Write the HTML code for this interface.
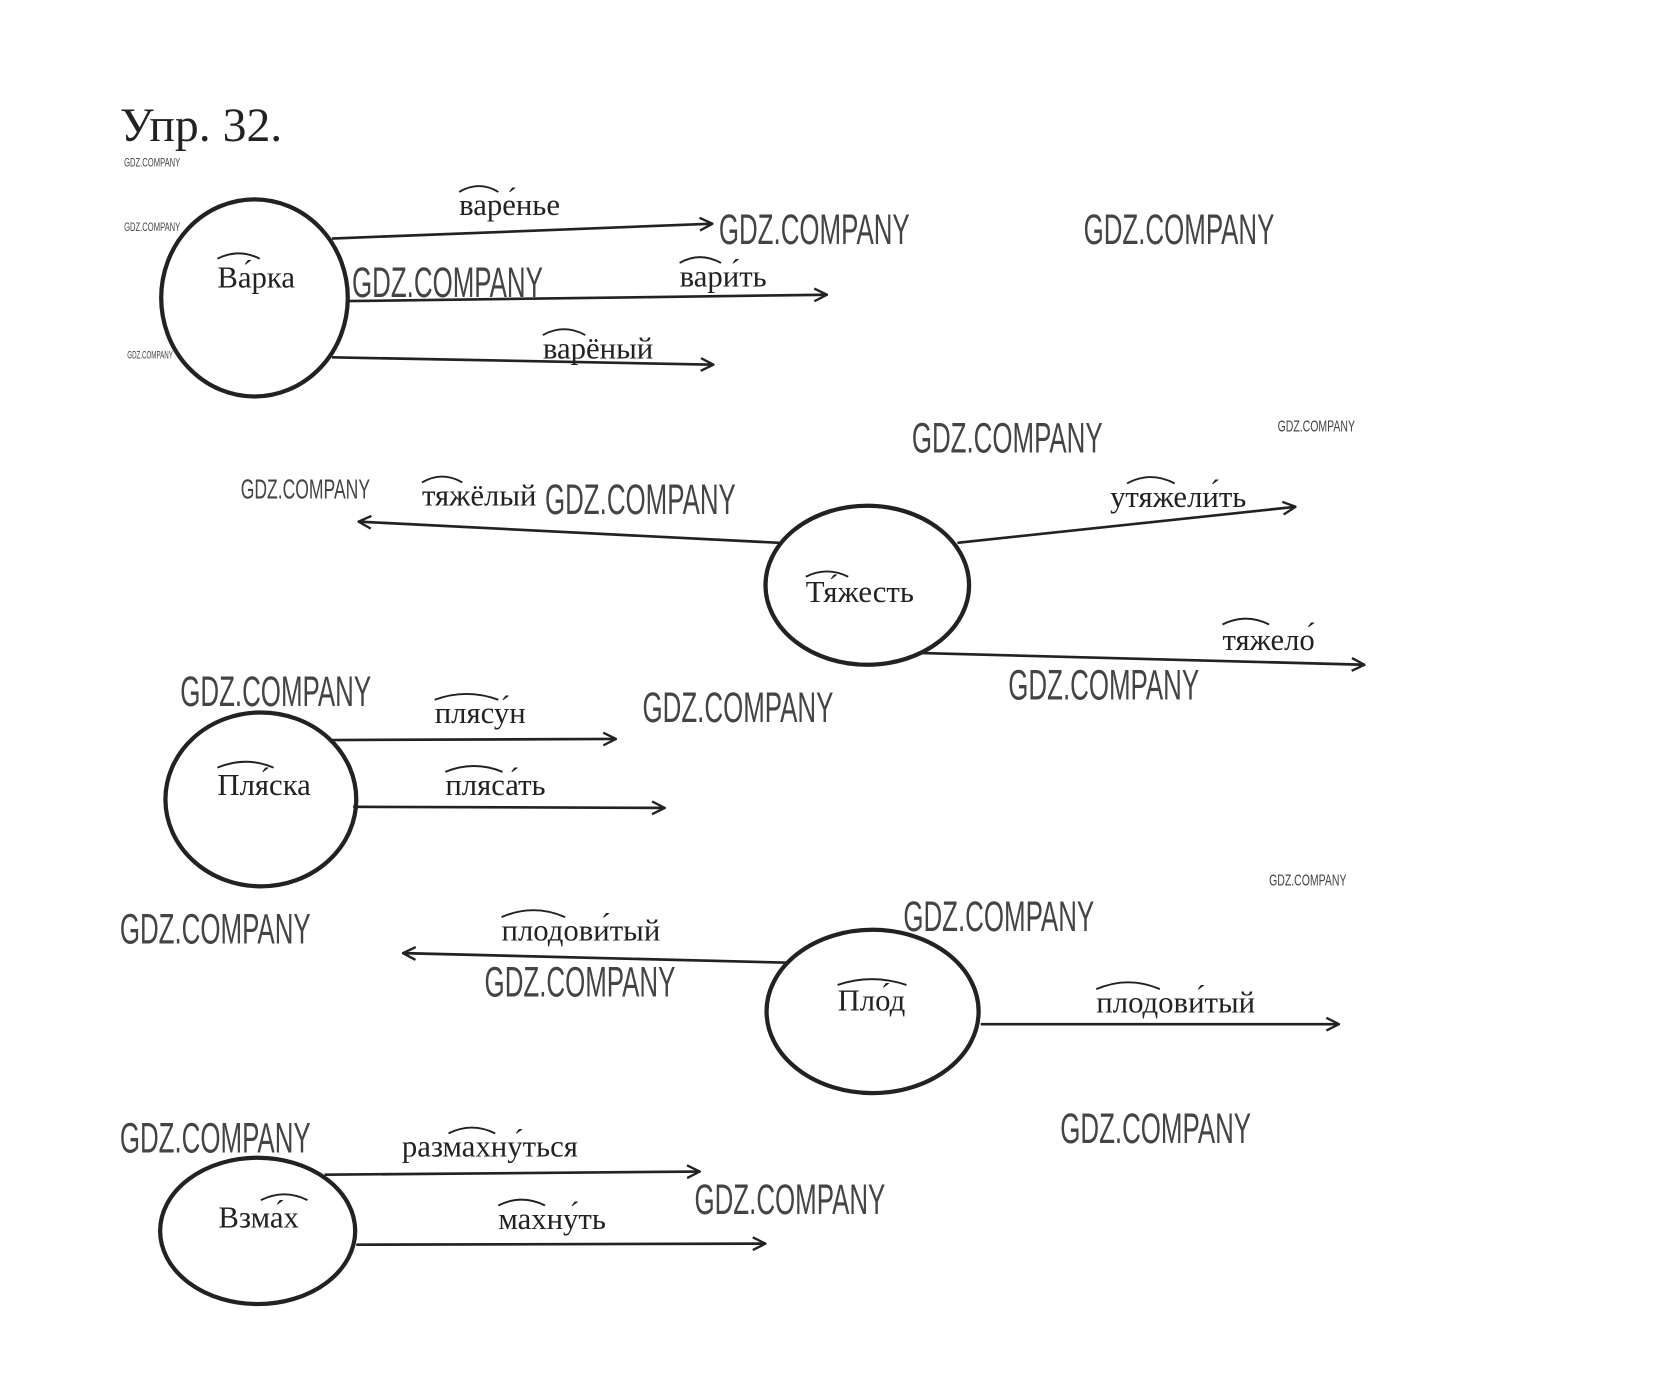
<!DOCTYPE html>
<html><head><meta charset="utf-8"><style>
html,body{margin:0;padding:0;background:#fff;width:1654px;height:1391px;overflow:hidden}
svg{display:block}
.s{font-family:"Liberation Serif",serif;fill:#222}
.w{font-family:"Liberation Sans",sans-serif;fill:#444}
</style></head><body>
<svg width="1654" height="1391" viewBox="0 0 1560 1312" xmlns="http://www.w3.org/2000/svg">
<defs><marker id="a" markerWidth="14" markerHeight="14" refX="13" refY="7" orient="auto" markerUnits="userSpaceOnUse"><path d="M1,1 L13,7 L1,13" fill="none" stroke="#222" stroke-width="2.2"/></marker></defs>
<text class="s" x="113" y="133" font-size="45">Упр. 32.</text>
<g fill="none" stroke="#222" stroke-width="4">
<ellipse cx="240" cy="281" rx="88" ry="93"/>
<ellipse cx="818" cy="552" rx="96" ry="75"/>
<ellipse cx="246" cy="754" rx="90" ry="82"/>
<ellipse cx="823" cy="954" rx="100" ry="77"/>
<ellipse cx="243" cy="1161" rx="92" ry="69"/>
</g>
<g fill="none" stroke="#222" stroke-width="2.5" marker-end="url(#a)">
<line x1="313" y1="225" x2="672" y2="211"/>
<line x1="328" y1="284" x2="780" y2="278"/>
<line x1="313" y1="337" x2="673" y2="344"/>
<line x1="735" y1="512" x2="338" y2="492"/>
<line x1="903" y1="512" x2="1222" y2="478"/>
<line x1="870" y1="616" x2="1287" y2="627"/>
<line x1="313" y1="698" x2="581" y2="697"/>
<line x1="333" y1="761" x2="627" y2="762"/>
<line x1="743" y1="908" x2="380" y2="899"/>
<line x1="925" y1="966" x2="1263" y2="966"/>
<line x1="306" y1="1108" x2="660" y2="1105"/>
<line x1="336" y1="1174" x2="722" y2="1173"/>
</g>
<g class="s" font-size="29">
<text x="205" y="271">Ва́рка</text>
<text x="433" y="203">варе́нье</text>
<text x="641" y="270">вари́ть</text>
<text x="512" y="338">варёный</text>
<text x="760" y="568">Тя́жесть</text>
<text x="398" y="477">тяжёлый</text>
<text x="1047" y="478">утяжели́ть</text>
<text x="1153" y="613">тяжело́</text>
<text x="205" y="750">Пля́ска</text>
<text x="410" y="682">плясу́н</text>
<text x="420" y="750">пляса́ть</text>
<text x="790" y="953">Пло́д</text>
<text x="473" y="887">плодови́тый</text>
<text x="1034" y="955">плодови́тый</text>
<text x="206" y="1158">Взма́х</text>
<text x="379" y="1091">размахну́ться</text>
<text x="470" y="1159">махну́ть</text>
</g>
<g fill="none" stroke="#222" stroke-width="1.8">
<path d="M205,244 Q225,234 245,244"/>
<path d="M433,181 Q452,170 470,181"/>
<path d="M641,248 Q660,237 680,248"/>
<path d="M512,316 Q532,305 552,316"/>
<path d="M760,544 Q780,534 800,544"/>
<path d="M398,455 Q417,444 436,455"/>
<path d="M1063,456 Q1085,444 1108,456"/>
<path d="M1153,589 Q1175,578 1197,589"/>
<path d="M205,724 Q232,713 258,724"/>
<path d="M410,660 Q440,649 470,660"/>
<path d="M420,728 Q447,717 474,728"/>
<path d="M790,929 Q822,918 855,929"/>
<path d="M473,865 Q503,852 533,865"/>
<path d="M1034,933 Q1064,920 1094,933"/>
<path d="M246,1132 Q268,1121 290,1132"/>
<path d="M423,1069 Q445,1058 467,1069"/>
<path d="M470,1137 Q492,1126 514,1137"/>
</g>
<g class="w" font-size="40">
<text x="678" y="230" textLength="180" lengthAdjust="spacingAndGlyphs">GDZ.COMPANY</text>
<text x="1022" y="230" textLength="180" lengthAdjust="spacingAndGlyphs">GDZ.COMPANY</text>
<text x="332" y="280" textLength="180" lengthAdjust="spacingAndGlyphs">GDZ.COMPANY</text>
<text x="860" y="427" textLength="180" lengthAdjust="spacingAndGlyphs">GDZ.COMPANY</text>
<text x="514" y="485" textLength="180" lengthAdjust="spacingAndGlyphs">GDZ.COMPANY</text>
<text x="170" y="666" textLength="180" lengthAdjust="spacingAndGlyphs">GDZ.COMPANY</text>
<text x="606" y="681" textLength="180" lengthAdjust="spacingAndGlyphs">GDZ.COMPANY</text>
<text x="951" y="660" textLength="180" lengthAdjust="spacingAndGlyphs">GDZ.COMPANY</text>
<text x="852" y="878" textLength="180" lengthAdjust="spacingAndGlyphs">GDZ.COMPANY</text>
<text x="113" y="890" textLength="180" lengthAdjust="spacingAndGlyphs">GDZ.COMPANY</text>
<text x="457" y="940" textLength="180" lengthAdjust="spacingAndGlyphs">GDZ.COMPANY</text>
<text x="1000" y="1078" textLength="180" lengthAdjust="spacingAndGlyphs">GDZ.COMPANY</text>
<text x="113" y="1087" textLength="180" lengthAdjust="spacingAndGlyphs">GDZ.COMPANY</text>
<text x="655" y="1145" textLength="180" lengthAdjust="spacingAndGlyphs">GDZ.COMPANY</text>
</g>
<g class="w">
<text x="227" y="470" font-size="26" textLength="122" lengthAdjust="spacingAndGlyphs">GDZ.COMPANY</text>
<text x="1205" y="407" font-size="15" textLength="73" lengthAdjust="spacingAndGlyphs">GDZ.COMPANY</text>
<text x="1197" y="835" font-size="15" textLength="73" lengthAdjust="spacingAndGlyphs">GDZ.COMPANY</text>
<text x="117" y="157" font-size="11" textLength="53" lengthAdjust="spacingAndGlyphs">GDZ.COMPANY</text>
<text x="117" y="218" font-size="11" textLength="53" lengthAdjust="spacingAndGlyphs">GDZ.COMPANY</text>
<text x="120" y="338" font-size="10" textLength="43" lengthAdjust="spacingAndGlyphs">GDZ.COMPANY</text>
</g>
</svg>
</body></html>
